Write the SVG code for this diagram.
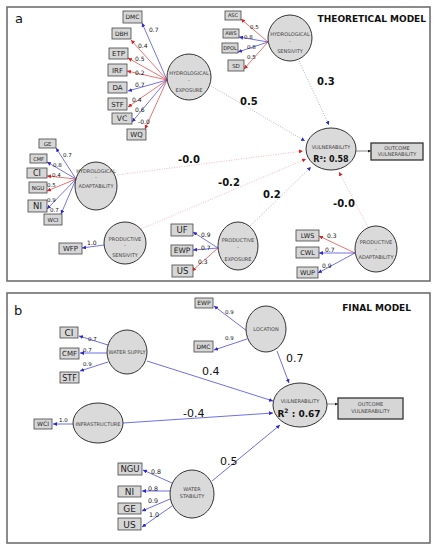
<svg xmlns="http://www.w3.org/2000/svg" width="440" height="550" viewBox="0 0 440 550">
<style>
text{font-family:"DejaVu Sans",Verdana,sans-serif;}
.fr{fill:#fff;stroke:#666;stroke-width:1.5}
.bx{fill:#d6d6d6;stroke:#444;stroke-width:0.8}
.lv{fill:#dadada;stroke:#333;stroke-width:1}
.ob{fill:#d6d6d6;stroke:#333;stroke-width:1.3}
.bt{text-anchor:middle;fill:#222}
.ct{text-anchor:middle;fill:#444;font-size:5px}
.ld{font-size:6px;fill:#111}
.pa{font-size:10px;font-weight:bold;fill:#111}
.pb{font-size:11px;fill:#111}
.b{stroke:#3a3ad6;stroke-width:0.7;fill:none;marker-end:url(#ab)}
.r{stroke:#e03838;stroke-width:0.7;fill:none;marker-end:url(#ar)}
.db{stroke:#9a9ad8;stroke-width:0.8;stroke-dasharray:1 1.5;fill:none;marker-end:url(#ab)}
.dr{stroke:#f0a8a8;stroke-width:0.8;stroke-dasharray:1 1.5;fill:none;marker-end:url(#ar)}
.sb{stroke:#4a4ae0;stroke-width:0.8;fill:none;marker-end:url(#ab)}
.k{stroke:#333;stroke-width:0.6;fill:none;marker-end:url(#ak)}
</style>
<defs>
<marker id="ab" viewBox="0 0 10 10" refX="10" refY="5" markerWidth="4" markerHeight="4" markerUnits="userSpaceOnUse" orient="auto"><path d="M0,0L10,5L0,10z" fill="#2a2ad0"/></marker>
<marker id="ar" viewBox="0 0 10 10" refX="10" refY="5" markerWidth="4" markerHeight="4" markerUnits="userSpaceOnUse" orient="auto"><path d="M0,0L10,5L0,10z" fill="#e02020"/></marker>
<marker id="ak" viewBox="0 0 10 10" refX="10" refY="5" markerWidth="3" markerHeight="3" markerUnits="userSpaceOnUse" orient="auto"><path d="M0,0L10,5L0,10z" fill="#222"/></marker>
</defs>
<rect x="0" y="0" width="440" height="550" fill="#fff"/>
<rect class="fr" x="7" y="7" width="423" height="274"/>
<rect class="fr" x="7" y="293" width="423" height="250"/>
<text x="15" y="23" font-size="13" fill="#111">a</text>
<text x="426" y="22" font-size="9" font-weight="bold" text-anchor="end" fill="#111">THEORETICAL MODEL</text>
<text x="14" y="315" font-size="13" fill="#111">b</text>
<text x="411" y="311" font-size="9" font-weight="bold" text-anchor="end" fill="#111">FINAL MODEL</text>

<g id="connectors">
<!-- panel a indicators: hydrological exposure -->
<line class="b" x1="167" y1="80" x2="142" y2="23"/>
<line class="r" x1="167" y1="80" x2="131" y2="40"/>
<line class="r" x1="167" y1="80" x2="128" y2="58"/>
<line class="r" x1="167" y1="80" x2="127" y2="71"/>
<line class="b" x1="167" y1="80" x2="128" y2="91"/>
<line class="r" x1="167" y1="80" x2="128" y2="107"/>
<line class="b" x1="167" y1="80" x2="132" y2="122"/>
<line class="r" x1="167" y1="80" x2="145" y2="129"/>
<!-- hydrological sensitivity -->
<line class="r" x1="268" y1="42" x2="241" y2="19"/>
<line class="b" x1="268" y1="42" x2="239" y2="37"/>
<line class="b" x1="268" y1="42" x2="238" y2="52"/>
<line class="r" x1="268" y1="42" x2="244" y2="69"/>
<!-- hydrological adaptability -->
<line class="b" x1="76" y1="179" x2="56" y2="148"/>
<line class="b" x1="76" y1="179" x2="47" y2="162"/>
<line class="r" x1="76" y1="179" x2="47" y2="176"/>
<line class="r" x1="76" y1="179" x2="47" y2="191"/>
<line class="b" x1="76" y1="179" x2="47" y2="209"/>
<line class="b" x1="76" y1="179" x2="61" y2="214"/>
<!-- productive sensitivity -->
<line class="b" x1="104" y1="245" x2="82" y2="248"/>
<!-- productive exposure -->
<line class="b" x1="218" y1="248" x2="193" y2="232"/>
<line class="b" x1="218" y1="248" x2="193" y2="250"/>
<line class="r" x1="218" y1="248" x2="192" y2="271"/>
<!-- productive adaptability -->
<line class="r" x1="355" y1="253" x2="319" y2="236"/>
<line class="b" x1="355" y1="253" x2="319" y2="253"/>
<line class="b" x1="355" y1="253" x2="318" y2="273"/>
<!-- panel a structural -->
<line class="db" x1="211" y1="86" x2="305" y2="141"/>
<line class="db" x1="299" y1="61" x2="329" y2="125"/>
<line class="dr" x1="117" y1="175" x2="303" y2="151"/>
<line class="dr" x1="141" y1="229" x2="306" y2="159"/>
<line class="db" x1="250" y1="226" x2="311" y2="167"/>
<line class="dr" x1="368" y1="227" x2="339" y2="172"/>
<line class="k" x1="356" y1="151" x2="371" y2="151"/>
<!-- panel b indicators -->
<line class="sb" x1="108" y1="345" x2="79" y2="336"/>
<line class="sb" x1="107" y1="353" x2="80" y2="353"/>
<line class="sb" x1="108" y1="362" x2="80" y2="371"/>
<line class="sb" x1="247" y1="331" x2="214" y2="306"/>
<line class="sb" x1="247" y1="339" x2="214" y2="350"/>
<line class="sb" x1="73" y1="424" x2="53" y2="424"/>
<line class="sb" x1="172" y1="483" x2="143" y2="470"/>
<line class="sb" x1="170" y1="491" x2="142" y2="491"/>
<line class="sb" x1="170" y1="499" x2="142" y2="511"/>
<line class="sb" x1="172" y1="506" x2="142" y2="527"/>
<!-- panel b structural -->
<line class="sb" x1="147" y1="361" x2="273" y2="401"/>
<line class="sb" x1="277" y1="351" x2="289" y2="383"/>
<line class="sb" x1="123" y1="423" x2="273" y2="413"/>
<line class="sb" x1="212" y1="481" x2="280" y2="425"/>
<line class="k" x1="327" y1="404" x2="338" y2="404"/>
<!-- loadings a -->
<g class="ld">
<text x="149" y="32">0.7</text><text x="138" y="48">0.4</text><text x="135" y="61">0.5</text><text x="135" y="75">0.2</text>
<text x="135" y="87">0.7</text><text x="132" y="102">0.4</text><text x="135" y="112">0.6</text><text x="138" y="124">-0.0</text>
<text x="250" y="29" font-size="5.5">0.5</text><text x="244" y="39" font-size="5.5">0.8</text><text x="247" y="49" font-size="5.5">0.8</text><text x="247" y="59" font-size="5.5">0.5</text>
<text x="63" y="157" font-size="5.5">0.7</text><text x="53" y="167" font-size="5.5">0.8</text><text x="52" y="177" font-size="5.5">0.4</text><text x="47" y="187" font-size="5.5">0.5</text><text x="47" y="202" font-size="5.5">0.9</text><text x="50" y="212" font-size="5.5">0.7</text>
<text x="87" y="245">1.0</text>
<text x="201" y="237">0.9</text><text x="201" y="250">0.7</text><text x="198" y="264">0.3</text>
<text x="327" y="238">0.3</text><text x="325" y="252">0.7</text><text x="322" y="268">0.9</text>
<!-- loadings b -->
<text x="88" y="341" font-size="5.5">0.7</text><text x="83" y="352" font-size="5.5">0.7</text><text x="83" y="366" font-size="5.5">0.9</text>
<text x="225" y="314" font-size="5.5">0.9</text><text x="225" y="340" font-size="5.5">0.9</text>
<text x="59" y="422" font-size="5.5">1.0</text>
<text x="151" y="474" font-size="6.3">0.8</text><text x="148" y="491" font-size="6.3">0.8</text><text x="148" y="503" font-size="6.3">0.9</text><text x="149" y="517" font-size="6.3">1.0</text>
</g>
<!-- path coefficients -->
<text class="pa" x="240" y="105">0.5</text>
<text class="pa" x="317" y="85">0.3</text>
<text class="pa" x="178" y="163">-0.0</text>
<text class="pa" x="218" y="186">-0.2</text>
<text class="pa" x="263" y="198">0.2</text>
<text class="pa" x="333" y="207">-0.0</text>
<text class="pb" x="202" y="375">0.4</text>
<text class="pb" x="286" y="362">0.7</text>
<text class="pb" x="183" y="417">-0.4</text>
<text class="pb" x="220" y="465">0.5</text>
</g>

<!-- panel a latent nodes -->
<g id="hydro-exposure"><ellipse class="lv" cx="189" cy="77" rx="22" ry="23"/><text class="ct" x="189" y="75">HYDROLOGICAL</text><text class="ct" x="189" y="82">-</text><text class="ct" x="189" y="92">EXPOSURE</text></g>
<g id="hydro-sensitivity"><ellipse class="lv" cx="290" cy="38" rx="22" ry="23"/><text class="ct" x="290" y="35.5">HYDROLOGICAL</text><text class="ct" x="290" y="43">-</text><text class="ct" x="290" y="53">SENSIVITY</text></g>
<g id="hydro-adaptability"><ellipse class="lv" cx="96" cy="186" rx="21" ry="24"/><text class="ct" x="96" y="173" font-size="4.6">HYDROLOGICAL</text><text class="ct" x="96" y="179">-</text><text class="ct" x="96" y="188" font-size="4.6">ADAPTABILITY</text></g>
<g id="prod-sensitivity"><ellipse class="lv" cx="125" cy="243" rx="21" ry="21"/><text class="ct" x="125" y="241">PRODUCTIVE</text><text class="ct" x="125" y="247">-</text><text class="ct" x="125" y="257">SENSIVITY</text></g>
<g id="prod-exposure"><ellipse class="lv" cx="238" cy="246" rx="20" ry="24"/><text class="ct" x="238" y="242">PRODUCTIVE</text><text class="ct" x="238" y="249">-</text><text class="ct" x="238" y="261">EXPOSURE</text></g>
<g id="prod-adaptability"><ellipse class="lv" cx="376" cy="249" rx="21" ry="23"/><text class="ct" x="376" y="244">PRODUCTIVE</text><text class="ct" x="376" y="251">-</text><text class="ct" x="376" y="259" font-size="4.6">ADAPTABILITY</text></g>
<g id="vulnerability-a"><ellipse class="lv" cx="331" cy="149" rx="25" ry="21"/><text class="ct" x="331" y="149" font-size="5.3">VULNERABILITY</text><text x="331" y="162" font-size="8" font-weight="bold" text-anchor="middle" fill="#111">R²: 0.58</text></g>
<g id="outcome-a"><rect class="ob" x="371" y="143" width="52" height="17"/><text class="ct" x="397" y="150">OUTCOME</text><text class="ct" x="397" y="156">VULNERABILITY</text></g>

<!-- panel a indicators -->
<g id="ind-a-DMC"><rect class="bx" x="123" y="11" width="19" height="12"/><text class="bt" x="132.5" y="19.2" font-size="6">DMC</text></g>
<g id="ind-a-DBH"><rect class="bx" x="112" y="28" width="19" height="11"/><text class="bt" x="121.5" y="35.8" font-size="6">DBH</text></g>
<g id="ind-a-ETP"><rect class="bx" x="109" y="48" width="19" height="11"/><text class="bt" x="118.5" y="56" font-size="7">ETP</text></g>
<g id="ind-a-IRF"><rect class="bx" x="108" y="64" width="19" height="12"/><text class="bt" x="117.5" y="72.5" font-size="7">IRF</text></g>
<g id="ind-a-DA"><rect class="bx" x="108" y="82" width="19" height="11"/><text class="bt" x="117.5" y="90" font-size="7">DA</text></g>
<g id="ind-a-STF"><rect class="bx" x="108" y="98" width="19" height="12"/><text class="bt" x="117.5" y="106.5" font-size="7">STF</text></g>
<g id="ind-a-VC"><rect class="bx" x="112" y="113" width="20" height="11"/><text class="bt" x="122" y="121.3" font-size="7.5">VC</text></g>
<g id="ind-a-WQ"><rect class="bx" x="127" y="129" width="19" height="11"/><text class="bt" x="136.5" y="137" font-size="7">WQ</text></g>
<g id="ind-a-ASC"><rect class="bx" x="225" y="11" width="16" height="9"/><text class="bt" x="233" y="17.3" font-size="5">ASC</text></g>
<g id="ind-a-AWS"><rect class="bx" x="223" y="29" width="16" height="9"/><text class="bt" x="231" y="35.3" font-size="5">AWS</text></g>
<g id="ind-a-DPOL"><rect class="bx" x="222" y="43" width="16" height="10"/><text class="bt" x="230" y="49.8" font-size="5">DPOL</text></g>
<g id="ind-a-SD"><rect class="bx" x="228" y="60" width="16" height="11"/><text class="bt" x="236" y="67.5" font-size="5.5">SD</text></g>
<g id="ind-a-GE"><rect class="bx" x="39" y="139" width="17" height="9"/><text class="bt" x="47.5" y="145.5" font-size="5.5">GE</text></g>
<g id="ind-a-CMF"><rect class="bx" x="30" y="154" width="17" height="9"/><text class="bt" x="38.5" y="160.5" font-size="5">CMF</text></g>
<g id="ind-a-CI"><rect class="bx" x="27" y="168" width="20" height="10"/><text class="bt" x="37" y="176" font-size="8">CI</text></g>
<g id="ind-a-NGU"><rect class="bx" x="29" y="182" width="18" height="11"/><text class="bt" x="38" y="189.5" font-size="5.5">NGU</text></g>
<g id="ind-a-NI"><rect class="bx" x="28" y="200" width="19" height="12"/><text class="bt" x="37.5" y="209" font-size="8.5">NI</text></g>
<g id="ind-a-WCI"><rect class="bx" x="44" y="214" width="18" height="11"/><text class="bt" x="53" y="221.5" font-size="5.5">WCI</text></g>
<g id="ind-a-WFP"><rect class="bx" x="59" y="243" width="23" height="11"/><text class="bt" x="70.5" y="251" font-size="7">WFP</text></g>
<g id="ind-a-UF"><rect class="bx" x="171" y="224" width="22" height="12"/><text class="bt" x="182" y="233" font-size="8.5">UF</text></g>
<g id="ind-a-EWP"><rect class="bx" x="171" y="245" width="22" height="11"/><text class="bt" x="182" y="253.3" font-size="7.5">EWP</text></g>
<g id="ind-a-US"><rect class="bx" x="172" y="265" width="21" height="12"/><text class="bt" x="182.5" y="274" font-size="8.5">US</text></g>
<g id="ind-a-LWS"><rect class="bx" x="296" y="230" width="23" height="11"/><text class="bt" x="307.5" y="238" font-size="6.5">LWS</text></g>
<g id="ind-a-CWL"><rect class="bx" x="296" y="247" width="23" height="11"/><text class="bt" x="307.5" y="255" font-size="6.5">CWL</text></g>
<g id="ind-a-WUP"><rect class="bx" x="297" y="267" width="21" height="11"/><text class="bt" x="307.5" y="275" font-size="6.5">WUP</text></g>

<!-- panel b latent nodes -->
<g id="water-supply"><ellipse class="lv" cx="127" cy="352" rx="20" ry="22"/><text class="ct" x="127" y="354" font-size="4.5">WATER SUPPLY</text></g>
<g id="location"><ellipse class="lv" cx="266" cy="329" rx="20" ry="23"/><text class="ct" x="266" y="331">LOCATION</text></g>
<g id="infrastructure"><ellipse class="lv" cx="98" cy="423" rx="25" ry="20"/><text class="ct" x="98" y="426" font-size="4.6">INFRASTRUCTURE</text></g>
<g id="water-stability"><ellipse class="lv" cx="192" cy="494" rx="22" ry="24"/><text class="ct" x="192" y="491">WATER</text><text class="ct" x="192" y="498">STABILITY</text></g>
<g id="vulnerability-b"><ellipse class="lv" cx="300" cy="405" rx="27" ry="22"/><text class="ct" x="300" y="403" font-size="5.5">VULNERABILITY</text><text x="299" y="417" font-size="9" font-weight="bold" text-anchor="middle" fill="#111">R<tspan font-size="6" dy="-4">2</tspan><tspan dy="4"> : 0.67</tspan></text></g>
<g id="outcome-b"><rect class="ob" x="338" y="398" width="65" height="21" stroke-width="1.5"/><text class="ct" x="370.5" y="405.5" font-size="5.5">OUTCOME</text><text class="ct" x="370.5" y="413" font-size="5.5">VULNERABILITY</text></g>

<!-- panel b indicators -->
<g id="ind-b-CI"><rect class="bx" x="60" y="327" width="18" height="11"/><text class="bt" x="69" y="336" font-size="9">CI</text></g>
<g id="ind-b-CMF"><rect class="bx" x="60" y="348" width="19" height="11"/><text class="bt" x="69.5" y="356.3" font-size="7">CMF</text></g>
<g id="ind-b-STF"><rect class="bx" x="60" y="372" width="19" height="11"/><text class="bt" x="69.5" y="380.5" font-size="8">STF</text></g>
<g id="ind-b-EWP"><rect class="bx" x="195" y="298" width="18" height="10"/><text class="bt" x="204" y="305.2" font-size="6">EWP</text></g>
<g id="ind-b-DMC"><rect class="bx" x="194" y="341" width="19" height="11"/><text class="bt" x="203.5" y="348.6" font-size="6">DMC</text></g>
<g id="ind-b-WCI"><rect class="bx" x="34" y="419" width="18" height="10"/><text class="bt" x="43" y="426.2" font-size="6">WCI</text></g>
<g id="ind-b-NGU"><rect class="bx" x="118" y="463" width="24" height="12"/><text class="bt" x="130" y="472.2" font-size="8.5">NGU</text></g>
<g id="ind-b-NI"><rect class="bx" x="118" y="486" width="23" height="11"/><text class="bt" x="129.5" y="495" font-size="9">NI</text></g>
<g id="ind-b-GE"><rect class="bx" x="118" y="503" width="23" height="11"/><text class="bt" x="129.5" y="512" font-size="9">GE</text></g>
<g id="ind-b-US"><rect class="bx" x="118" y="518" width="23" height="12"/><text class="bt" x="129.5" y="527.5" font-size="9">US</text></g>
</svg>
